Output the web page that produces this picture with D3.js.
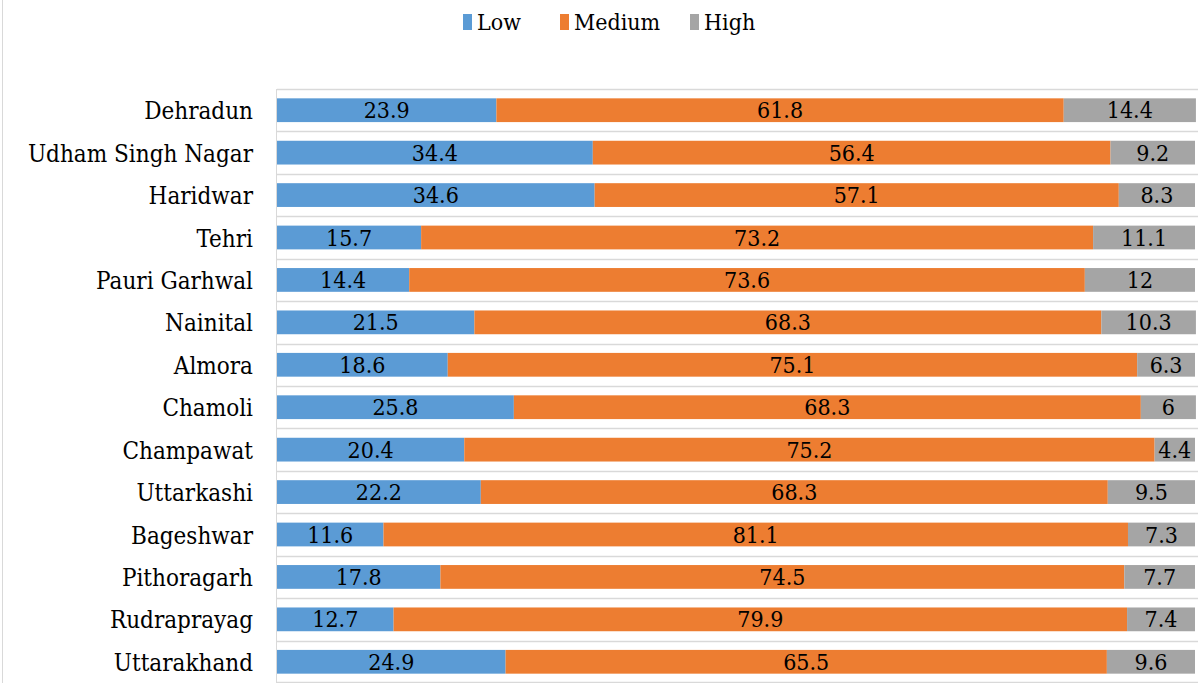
<!DOCTYPE html>
<html>
<head>
<meta charset="utf-8">
<script src="https://cdn.jsdelivr.net/npm/d3@7"></script>
<style>
  body { margin: 0; background: #fff; }
</style>
</head>
<body>
<div id="chart"></div>
<script>
// districts, top to bottom
let districts = ['Dehradun', 'Udham Singh Nagar', 'Haridwar', 'Tehri', 'Pauri Garhwal', 'Nainital',
    'Almora', 'Chamoli', 'Champawat', 'Uttarkashi', 'Bageshwar', 'Pithoragarh', 'Rudraprayag', 'Uttarakhand'];
let low    = [23.9, 34.4, 34.6, 15.7, 14.4, 21.5, 18.6, 25.8, 20.4, 22.2, 11.6, 17.8, 12.7, 24.9];
let medium = [61.8, 56.4, 57.1, 73.2, 73.6, 68.3, 75.1, 68.3, 75.2, 68.3, 81.1, 74.5, 79.9, 65.5];
let high   = [14.4, 9.2, 8.3, 11.1, 12, 10.3, 6.3, 6, 4.4, 9.5, 7.3, 7.7, 7.4, 9.6];
let seriesNames = ['Low', 'Medium', 'High'];
let colors = ['#5b9bd5', '#ed7d31', '#a5a5a5'];

let fontStack = '"DejaVu Serif Condensed", "DejaVu Serif", serif';
let width = 1198, height = 683;
let margin = { top: 89, right: 3, bottom: 0, left: 277 };

let rows = districts.map((d, i) => ({ name: d, Low: low[i], Medium: medium[i], High: high[i] }));

let svg = d3.select('#chart').append('svg')
    .attr('width', width)
    .attr('height', height);

let x = d3.scaleLinear().domain([0, 100]).range([margin.left, width - margin.right]);
let y = d3.scaleBand().domain(districts).range([margin.top, height - margin.bottom]).paddingInner(0.44).paddingOuter(0.22);

// chart area left border
svg.append('line')
    .attr('x1', 2.5).attr('x2', 2.5).attr('y1', 0).attr('y2', height)
    .attr('stroke', '#d9d9d9');

// horizontal lines between categories
let step = y.step();
let bounds = districts.map((d, i) => margin.top + i * step).concat([height - 1]);
svg.append('g')
    .selectAll('line')
    .data(bounds)
    .enter().append('line')
    .attr('x1', margin.left).attr('x2', width)
    .attr('y1', d => Math.round(d) + 0.5).attr('y2', d => Math.round(d) + 0.5)
    .attr('stroke', '#d9d9d9').attr('stroke-width', 1.5);

svg.append('line')
    .attr('x1', margin.left - 0.5).attr('x2', margin.left - 0.5)
    .attr('y1', margin.top).attr('y2', height)
    .attr('stroke', '#d9d9d9');

let stacked = d3.stack().keys(seriesNames)(rows);

let layers = svg.append('g')
    .selectAll('g')
    .data(stacked)
    .enter().append('g')
    .attr('fill', (s, i) => colors[i]);

layers.selectAll('rect')
    .data(s => s)
    .enter().append('rect')
    .attr('x', d => x(d[0]))
    .attr('y', d => y(d.data.name))
    .attr('width', d => x(d[1]) - x(d[0]))
    .attr('height', y.bandwidth());

// data labels
layers.selectAll('text')
    .data(s => s.map(d => ({ d: d, key: s.key })))
    .enter().append('text')
    .attr('x', o => (x(o.d[0]) + x(o.d[1])) / 2)
    .attr('y', o => y(o.d.data.name) + y.bandwidth() / 2 + 8)
    .attr('text-anchor', 'middle')
    .attr('fill', '#000')
    .style('font-family', fontStack)
    .style('font-size', '23px')
    .text(o => o.d.data[o.key]);

// category axis
let axis = svg.append('g')
    .attr('transform', 'translate(' + margin.left + ',0)')
    .call(d3.axisLeft(y).tickSize(0).tickPadding(24));
axis.select('.domain').remove();
axis.selectAll('text')
    .attr('dy', null)
    .attr('y', 9)
    .attr('fill', '#000')
    .style('font-size', '24px')
    .style('font-family', fontStack);

// legend
let legendX = [463, 560, 690];
let legend = svg.append('g')
    .selectAll('g')
    .data(seriesNames)
    .enter().append('g')
    .attr('transform', (d, i) => 'translate(' + legendX[i] + ',22)');
legend.append('rect')
    .attr('x', 0).attr('y', -8)
    .attr('width', 9).attr('height', 16)
    .attr('fill', (d, i) => colors[i]);
legend.append('text')
    .attr('x', 14)
    .attr('y', 8)
    .attr('fill', '#000')
    .style('font-family', fontStack)
    .style('font-size', '23px')
    .text(d => d);
</script>
</body>
</html>
